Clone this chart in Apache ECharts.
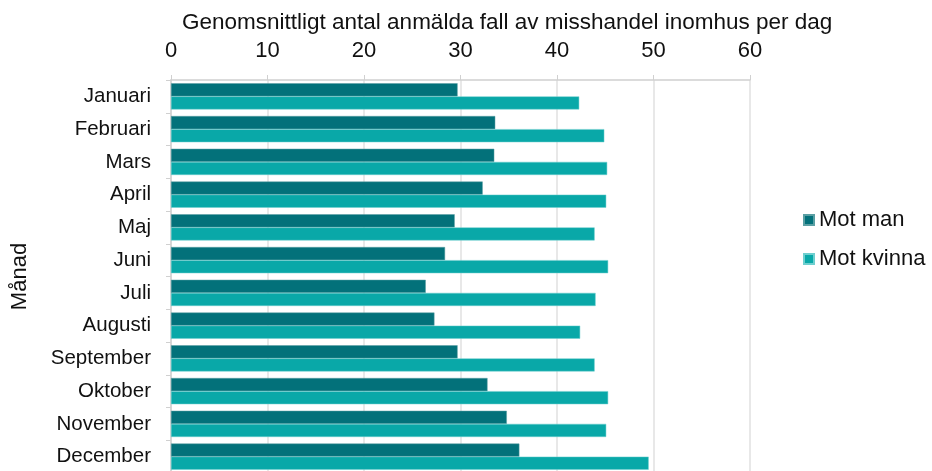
<!DOCTYPE html>
<html>
<head>
<meta charset="utf-8">
<script src="https://cdn.jsdelivr.net/npm/echarts@6/dist/echarts.min.js"></script>
<style>
    html, body {margin: 0; padding: 0; background: #fff;}
    #main {width: 932px; height: 471px;}
</style>
</head>
<body>
<div id="main"></div>
<script>
// data
var months = ['Januari', 'Februari', 'Mars', 'April', 'Maj', 'Juni', 'Juli', 'Augusti', 'September', 'Oktober', 'November', 'December'];
var motMan = [29.7, 33.6, 33.5, 32.3, 29.4, 28.4, 26.4, 27.3, 29.7, 32.8, 34.8, 36.1];
var motKvinna = [42.3, 44.9, 45.2, 45.1, 43.9, 45.3, 44.0, 42.4, 43.9, 45.3, 45.1, 49.5];
var xTicks = [0, 10, 20, 30, 40, 50, 60];

var font = 'Liberation Sans, Arial, sans-serif';
var chart = echarts.init(document.getElementById('main'));

var option = {
    animation: false,
    title: {
        text: 'Genomsnittligt antal anmälda fall av misshandel inomhus per dag',
        left: 177,
        top: 6,
        textStyle: {fontFamily: font, fontSize: 22.5, fontWeight: 'normal', color: '#111'}
    },
    legend: {
        orient: 'vertical',
        left: 798,
        top: 204,
        itemWidth: 10,
        itemHeight: 10,
        itemGap: 17,
        icon: 'rect',
        textStyle: {fontFamily: font, fontSize: 22, color: '#111'},
        data: ['Mot man', 'Mot kvinna']
    },
    grid: {
        left: 171,
        top: 80,
        width: 579,
        height: 393,
        outerBoundsMode: 'none',
        containLabel: false
    },
    xAxis: {
        type: 'value',
        position: 'top',
        min: xTicks[0],
        max: xTicks[xTicks.length - 1],
        interval: 10,
        axisLine: {show: true, lineStyle: {color: '#d0d0d0', width: 1.5}},
        axisTick: {show: true, length: 5, lineStyle: {color: '#d0d0d0'}},
        axisLabel: {fontFamily: font, fontSize: 22, color: '#111', margin: 18},
        splitLine: {show: true, lineStyle: {color: '#e0e0e0', width: 1.5}}
    },
    yAxis: {
        type: 'category',
        inverse: true,
        data: months,
        name: 'Månad',
        nameLocation: 'middle',
        nameGap: 140,
        nameRotate: 90,
        nameTextStyle: {fontFamily: font, fontSize: 22, color: '#111'},
        axisLine: {show: true, lineStyle: {color: '#d0d0d0', width: 1.5}},
        axisTick: {show: true, length: 5, lineStyle: {color: '#d0d0d0'}},
        axisLabel: {fontFamily: font, fontSize: 20.5, color: '#111', margin: 20, padding: [4, 0, 0, 0]}
    },
    series: [
        {
            name: 'Mot man',
            type: 'bar',
            data: motMan,
            barGap: '0%',
            barCategoryGap: '20%',
            itemStyle: {color: '#03717a', borderColor: '#5a9fa3', borderWidth: 0.5}
        },
        {
            name: 'Mot kvinna',
            type: 'bar',
            data: motKvinna,
            barGap: '0%',
            barCategoryGap: '20%',
            itemStyle: {color: '#09a8a8', borderColor: '#6fcfcf', borderWidth: 0.5}
        }
    ]
};
chart.setOption(option);
</script>
</body>
</html>
